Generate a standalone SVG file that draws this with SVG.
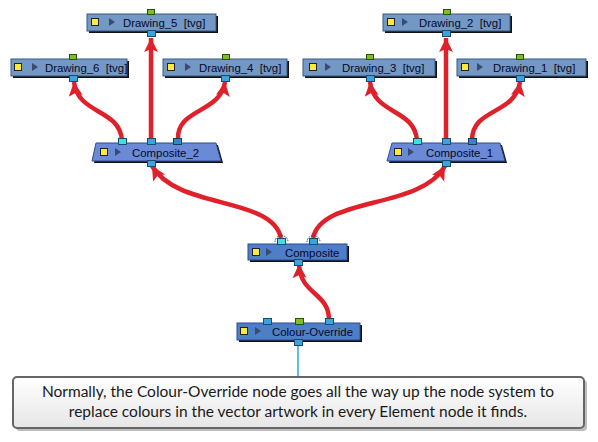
<svg xmlns="http://www.w3.org/2000/svg" width="598" height="442" viewBox="0 0 598 442">
<defs>
<style>
.nd{font-family:"Liberation Sans",Arial,sans-serif;font-size:11.4px;fill:#080820;white-space:pre}
.sh{fill:#111}
.dr{fill:#7398c6;stroke:#3b5a80;stroke-width:1}
.cp{fill:#6a8ad8;stroke:#2e4a90;stroke-width:1}
.cm{fill:#4d7fc8;stroke:#2e4a90;stroke-width:1}
.ys{fill:#ffe83c;stroke:#222;stroke-width:1}
.tr{fill:#3a4a70}
.pb{fill:#3aa4e0;stroke:#1a4a70;stroke-width:1}
.pc{fill:#40e0e0;stroke:#1a4a70;stroke-width:1}
.pd{fill:#3088cc;stroke:#1a3a60;stroke-width:1}
.pg{fill:#7cc020;stroke:#2a5010;stroke-width:1}
.ln{fill:none;stroke:#e0202a;stroke-width:4.5;marker-end:url(#ah)}
.ct{font-family:Lato,"Open Sans",sans-serif;font-size:15.5px;fill:#1a1a1a}
</style>
<marker id="ah" markerUnits="userSpaceOnUse" markerWidth="16" markerHeight="16" refX="14" refY="7" orient="auto">
<path d="M0,0 L14,7 L0,14 L3,7 z" fill="#e0202a"/>
</marker>
<linearGradient id="cg" x1="0" y1="0" x2="0" y2="1">
<stop offset="0" stop-color="#ffffff"/>
<stop offset="1" stop-color="#e6e6e6"/>
</linearGradient>
</defs>
<rect width="598" height="442" fill="#fff"/>

<g id="connectors">
<path class="ln" d="M151,140 L151,38"/>
<path class="ln" d="M122,140 C119,108 78,115 74,82"/>
<path class="ln" d="M178,140 C176,108 220,114 225,82"/>
<path class="ln" d="M446,140 L446,38"/>
<path class="ln" d="M417,140 C414,108 374,115 370,82"/>
<path class="ln" d="M472,140 C472,108 515,115 520,82"/>
<path class="ln" d="M281,238 C272,196 178,210 152,166"/>
<path class="ln" d="M313,238 C322,196 420,210 445,166"/>
<path class="ln" d="M329,320 C329,292 300,295 299,264"/>
<line x1="298" y1="344" x2="298" y2="377" stroke="#2aa8e0" stroke-width="1.5"/>
</g>

<g id="Drawing_5">
<rect class="sh" x="89" y="16" width="129" height="17"/>
<rect class="dr" x="87" y="14" width="129" height="17"/>
<rect class="ys" x="91.5" y="18.5" width="7" height="7"/>
<path class="tr" d="M109,18 L115,22 L109,26 z"/>
<text class="nd" x="123" y="26.5">Drawing_5  [tvg]</text>
<rect class="pg" x="147.5" y="9.5" width="7" height="5"/>
<rect class="pb" x="147.5" y="30.5" width="8" height="6"/>
</g>

<g id="Drawing_2">
<rect class="sh" x="385" y="16" width="127" height="17"/>
<rect class="dr" x="383" y="14" width="127" height="17"/>
<rect class="ys" x="387.5" y="18.5" width="7" height="7"/>
<path class="tr" d="M402,18 L408,22 L402,26 z"/>
<text class="nd" x="419" y="26.5">Drawing_2  [tvg]</text>
<rect class="pg" x="443.5" y="9.5" width="7" height="5"/>
<rect class="pb" x="442.5" y="30.5" width="8" height="6"/>
</g>

<g id="Drawing_6">
<rect class="sh" x="13" y="61" width="116" height="17"/>
<rect class="dr" x="11" y="59" width="116" height="17"/>
<rect class="ys" x="14.5" y="63.5" width="7" height="7"/>
<path class="tr" d="M32,63 L38,67 L32,71 z"/>
<text class="nd" x="45" y="71.5">Drawing_6  [tvg]</text>
<rect class="pg" x="69.5" y="54.5" width="7" height="5"/>
<rect class="pb" x="69.5" y="75.5" width="8" height="6"/>
</g>

<g id="Drawing_4">
<rect class="sh" x="165" y="61" width="124" height="17"/>
<rect class="dr" x="163" y="59" width="124" height="17"/>
<rect class="ys" x="167.5" y="63.5" width="7" height="7"/>
<path class="tr" d="M185,63 L191,67 L185,71 z"/>
<text class="nd" x="199" y="71.5">Drawing_4  [tvg]</text>
<rect class="pg" x="222.5" y="54.5" width="7" height="5"/>
<rect class="pb" x="221.5" y="75.5" width="8" height="6"/>
</g>

<g id="Drawing_3">
<rect class="sh" x="305" y="61" width="132" height="17"/>
<rect class="dr" x="303" y="59" width="132" height="17"/>
<rect class="ys" x="309.5" y="63.5" width="7" height="7"/>
<path class="tr" d="M325,63 L331,67 L325,71 z"/>
<text class="nd" x="342" y="71.5">Drawing_3  [tvg]</text>
<rect class="pg" x="366.5" y="54.5" width="7" height="5"/>
<rect class="pb" x="366.5" y="75.5" width="8" height="6"/>
</g>

<g id="Drawing_1">
<rect class="sh" x="459" y="61" width="129" height="17"/>
<rect class="dr" x="457" y="59" width="129" height="17"/>
<rect class="ys" x="461.5" y="63.5" width="7" height="7"/>
<path class="tr" d="M477,63 L483,67 L477,71 z"/>
<text class="nd" x="493" y="71.5">Drawing_1  [tvg]</text>
<rect class="pg" x="516.5" y="54.5" width="7" height="5"/>
<rect class="pb" x="516.5" y="75.5" width="8" height="6"/>
</g>

<g id="Composite_2">
<path class="sh" d="M98,145 L218,145 L223,163 L94,163 z"/>
<path class="cp" d="M96,143 L216,143 L221,161 L92,161 z"/>
<rect class="ys" x="100.5" y="148.5" width="7" height="7"/>
<path class="tr" d="M115,148 L121,152 L115,156 z"/>
<text class="nd" x="132" y="156.5">Composite_2</text>
<rect class="pc" x="118.5" y="138.5" width="8" height="6"/>
<rect class="pb" x="147.5" y="138.5" width="8" height="6"/>
<rect class="pd" x="173.5" y="138.5" width="8" height="6"/>
<rect class="pb" x="147.5" y="160.5" width="8" height="6"/>
</g>

<g id="Composite_1">
<path class="sh" d="M394,145 L502,145 L507,163 L389,163 z"/>
<path class="cp" d="M392,143 L500,143 L505,161 L387,161 z"/>
<rect class="ys" x="394.5" y="148.5" width="7" height="7"/>
<path class="tr" d="M408,148 L414,152 L408,156 z"/>
<text class="nd" x="426" y="156.5">Composite_1</text>
<rect class="pc" x="413.5" y="138.5" width="8" height="6"/>
<rect class="pb" x="442.5" y="138.5" width="8" height="6"/>
<rect class="pd" x="468.5" y="138.5" width="8" height="6"/>
<rect class="pb" x="442.5" y="160.5" width="8" height="6"/>
</g>

<g id="Composite">
<rect class="sh" x="250" y="246" width="99" height="16"/>
<rect class="cm" x="248" y="244" width="99" height="16"/>
<rect class="ys" x="252.5" y="248.5" width="7" height="7"/>
<path class="tr" d="M266,248 L272,252 L266,256 z"/>
<text class="nd" x="285" y="256.5">Composite</text>
<path d="M275,242 A6.5,6.5 0 0 1 288,242" fill="none" stroke="#1a4a80" stroke-width="1" stroke-dasharray="1.5,1"/>
<path d="M307,242 A6.5,6.5 0 0 1 320,242" fill="none" stroke="#1a4a80" stroke-width="1" stroke-dasharray="1.5,1"/>
<rect class="pc" x="277.5" y="238.5" width="8" height="6"/>
<rect class="pb" x="309.5" y="238.5" width="8" height="6"/>
<rect class="pb" x="294.5" y="259.5" width="8" height="6"/>
</g>

<g id="Colour-Override">
<rect class="sh" x="239" y="325" width="123" height="17"/>
<rect class="cm" x="237" y="323" width="123" height="17"/>
<rect class="ys" x="240.5" y="327.5" width="7" height="7"/>
<path class="tr" d="M255,327 L261,331 L255,335 z"/>
<text class="nd" x="272" y="335.5">Colour-Override</text>
<rect class="pb" x="263.5" y="318.5" width="8" height="6"/>
<rect class="pg" x="295.5" y="318.5" width="8" height="6"/>
<rect class="pb" x="325.5" y="318.5" width="8" height="6"/>
<rect class="pb" x="294.5" y="339.5" width="8" height="6"/>
</g>

<g id="callout">
<rect x="16" y="380" width="571" height="51" rx="4" fill="#bdbdbd"/>
<rect x="13" y="377" width="571" height="51" rx="4" fill="url(#cg)" stroke="#666" stroke-width="2"/>
<text class="ct" x="298" y="397" text-anchor="middle">Normally, the Colour-Override node goes all the way up the node system to</text>
<text class="ct" x="298" y="417" text-anchor="middle">replace colours in the vector artwork in every Element node it finds.</text>
</g>
</svg>
